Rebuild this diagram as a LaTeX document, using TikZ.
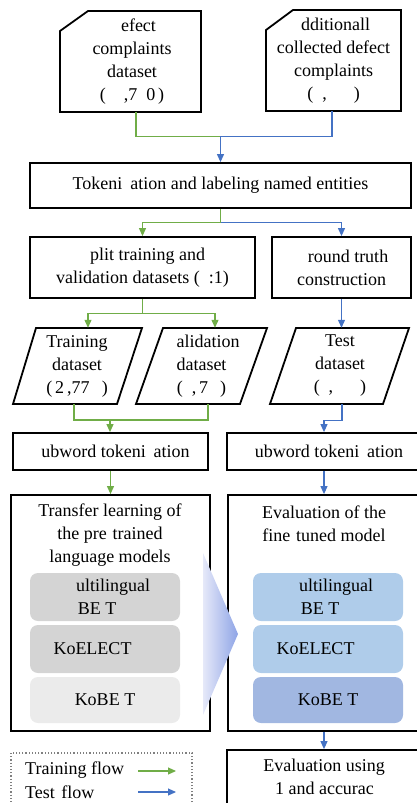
\documentclass[tikz,border=0pt]{standalone}
\usepackage{fontspec}
\setmainfont{Liberation Serif}
\usetikzlibrary{arrows.meta,calc}
\definecolor{tgreen}{HTML}{70AD47}
\definecolor{tblue}{HTML}{4472C4}
\definecolor{grayA}{HTML}{D4D4D4}
\definecolor{grayB}{HTML}{EBEBEB}
\definecolor{blueA}{HTML}{AFCCEA}
\definecolor{blueB}{HTML}{A1B7E1}
\definecolor{chevL}{HTML}{E6E9F9}
\definecolor{chevR}{HTML}{8EA4E6}
\newcommand\dfont{\fontsize{18pt}{23pt}\selectfont}
\begin{document}
\begin{tikzpicture}[x=1pt,y=-1pt,
  txt/.style={inner sep=0pt, align=center, font=\dfont},
  boxed/.style={draw=black, line width=1.8pt, inner sep=0pt, align=center, font=\dfont},
  outline/.style={draw=black, line width=1.8pt, line join=miter},
  model/.style={rounded corners=8pt, inner sep=0pt, align=center, font=\dfont, minimum width=150pt},
  gline/.style={draw=tgreen, line width=1.1pt},
  bline/.style={draw=tblue, line width=1.1pt},
  gflow/.style={gline, -{Triangle[length=8pt,width=7pt]}},
  bflow/.style={bline, -{Triangle[length=8pt,width=7pt]}}]
\useasboundingbox (0,0) rectangle (417,803);
\clip (0,0) rectangle (417,803);

% top data boxes (chamfered)
\draw[outline] (88,11) -- (201,11) -- (201,112) -- (60,112) -- (60,31) -- cycle;
\node[txt, minimum width=141pt, minimum height=101pt] (dc) at (132,61.5)
  {\phantom{D}efect\\complaints\\dataset\\(\phantom{00},7\phantom{0}0\,)};
\draw[outline] (293,10) -- (401,10) -- (401,111) -- (266,111) -- (266,30) -- cycle;
\node[txt, minimum width=135pt, minimum height=101pt] (ad) at (333.5,60.5)
  {\phantom{A}dditionall\phantom{y}\\collected defect\\complaints\\(\phantom{0},\phantom{000})};

% tokenization
\node[boxed, minimum width=381pt, minimum height=45pt] (tok) at (220.5,185.5)
  {Tokeni\phantom{z}ation and labeling named entities};

% split and ground truth
\node[boxed, minimum width=225pt, minimum height=61pt] (split) at (142.5,267.5)
  {\phantom{S}plit training and\\validation datasets (\phantom{9}:1)};
\node[boxed, minimum width=139pt, minimum height=61pt] (gt) at (341.5,267.5)
  {\phantom{G}round truth\\construction};

% parallelograms
\draw[outline] (36,328) -- (142,328) -- (117,404) -- (13,404) -- cycle;
\node[txt, minimum width=100pt, minimum height=76pt] (train) at (77,366)
  {Training\\dataset\\(\,2\,,77\phantom{0}\,)};
\draw[outline] (163,328) -- (267,328) -- (240,404) -- (136,404) -- cycle;
\node[txt, minimum width=100pt, minimum height=76pt] (val) at (201.5,366)
  {\phantom{V}alidation\\dataset\\(\phantom{0},\,7\phantom{0}\,)};
\draw[outline] (296,328) -- (409,328) -- (383,404) -- (270,404) -- cycle;
\node[txt, minimum width=100pt, minimum height=76pt] (test) at (340,366)
  {Test\\dataset\\(\phantom{0},\phantom{000})};

% subword tokenization
\node[boxed, minimum width=195pt, minimum height=37pt] (sw1) at (110.5,451.5)
  {\phantom{S}ubword tokeni\phantom{z}ation};
\node[boxed, minimum width=194pt, minimum height=37pt] (sw2) at (324,451.5)
  {\phantom{S}ubword tokeni\phantom{z}ation};

% big boxes
\node[boxed, minimum width=199pt, minimum height=236pt] (big1) at (110.5,613) {};
\node[boxed, minimum width=192pt, minimum height=236pt] (big2) at (324,613) {};
\node[txt] (t1) at (110,535.5) {Transfer learning of\\the pre\phantom{-}trained\\language models};
\node[txt] (t2) at (324,524) {Evaluation of the\\fine\phantom{-}tuned model};

\node[model, fill=grayA, minimum height=48pt] (m1) at (105,597) {\phantom{M}ultilingual\\BE\ T\phantom{M}};
\node[model, fill=grayA, minimum height=48pt] (k1) at (105,649) {KoELECT\phantom{RA}};
\node[model, fill=grayB, minimum height=46pt] (b1) at (105,700) {KoBE\ T};
\node[model, fill=blueA, minimum height=48pt] (m2) at (328,597) {\phantom{M}ultilingual\\BE\ T\phantom{M}};
\node[model, fill=blueA, minimum height=48pt] (k2) at (328,649) {KoELECT\phantom{RA}};
\node[model, fill=blueB, minimum height=46pt] (b2) at (328,700) {KoBE\ T};

% chevron
\shade[left color=chevL, right color=chevR] (203,553) -- (238,634) -- (203,715) -- cycle;

% evaluation box
\node[boxed, minimum width=194pt, minimum height=70pt] (ev) at (324,785) {};
\node[txt] (evt) at (324,778.5) {Evaluation using\\\phantom{F}1 and accurac\phantom{y}};

% legend
\draw[gray, dotted, line width=1.2pt] (11,753) rectangle (192,815);
\node[txt, anchor=west] (lg1) at (25,770) {Training flow};
\node[txt, anchor=west] (lg2) at (25,792) {Test\hspace{2pt} flow};
\coordinate (lg1a) at (138,771); \coordinate (lg1b) at (176,771);
\coordinate (lg2a) at (138,792); \coordinate (lg2b) at (176,792);
\draw[gflow] (lg1a) -- (lg1b);
\draw[bflow] (lg2a) -- (lg2b);

% connectors
\draw[gline] ($(dc.south)+(4,0)$) |- ($(tok.north)+(0,-26)$);
\draw[bflow] ($(ad.south)+(-1.5,0)$) |- ($(tok.north)+(0,-26)$) -- (tok.north);
\draw[gline] (tok.south) -- ($(tok.south)+(0,14)$);
\draw[gflow] ($(tok.south)+(0,14)$) -| (split.north);
\draw[bflow] ($(tok.south)+(0,14)$) -| (gt.north);
\draw[gline] (split.south) -- ($(split.south)+(0,15)$) coordinate (sj);
\draw[gflow] (sj) -| ($(train.north)+(11,0)$);
\draw[gflow] (sj) -| ($(val.north)+(13.5,0)$);
\draw[bflow] (gt.south) -- (gt.south |- test.north);
\coordinate (j3) at (110,420);
\draw[gline] ($(train.south)+(-3,0)$) |- (j3) -| ($(val.south)+(6.5,0)$);
\draw[gflow] (j3) -- (sw1.north -| j3);
\draw[bflow] ($(test.south)+(2,0)$) -- ++(0,16) -| (sw2.north);
\draw[gflow] (sw1.south) -- (big1.north);
\draw[bflow] (sw2.south) -- (big2.north);
\draw[bflow] (big2.south) -- (ev.north);
\end{tikzpicture}
\end{document}
